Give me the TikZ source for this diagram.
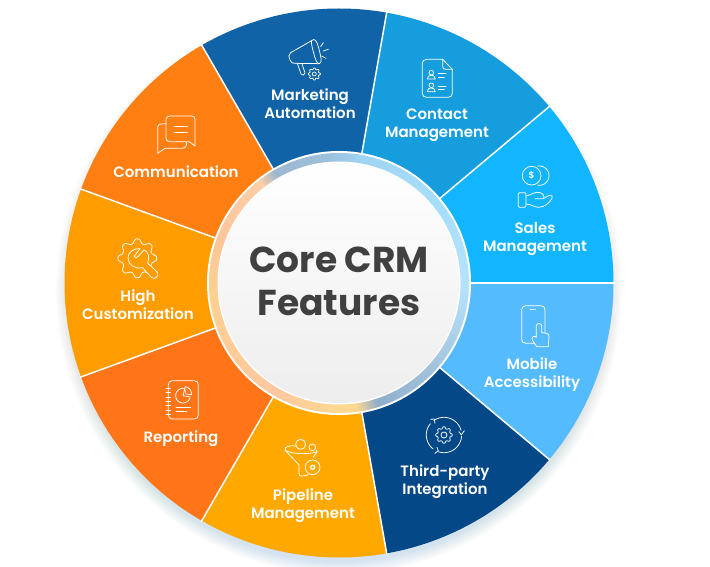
\documentclass[tikz,border=0pt]{standalone}
\usepackage{fontspec}
\newfontfamily\labfont{Poppins SemiBold}
\newfontfamily\titfont{Poppins}
\definecolor{segSales}{HTML}{12B5FF}
\definecolor{segContact}{HTML}{169DDE}
\definecolor{segMarket}{HTML}{0F63A6}
\definecolor{segComm}{HTML}{FF7F13}
\definecolor{segHigh}{HTML}{FF9C00}
\definecolor{segReport}{HTML}{FF7518}
\definecolor{segPipe}{HTML}{FFA900}
\definecolor{segThird}{HTML}{044888}
\definecolor{segMobile}{HTML}{55BBFF}
\definecolor{titlec}{HTML}{404040}
\definecolor{r0}{HTML}{B5E3FF}
\definecolor{r1}{HTML}{A5DEFB}
\definecolor{r2}{HTML}{9FD4F2}
\definecolor{r3}{HTML}{9CC0DB}
\definecolor{r4}{HTML}{9DB8D2}
\definecolor{r5}{HTML}{FFCFA8}
\definecolor{r6}{HTML}{FFC59A}
\definecolor{r7}{HTML}{FFD090}
\definecolor{r8}{HTML}{FFC8A0}
\definecolor{r9}{HTML}{FFD890}
\definecolor{r10}{HTML}{8FAECB}
\definecolor{r11}{HTML}{A5C5DE}
\tikzset{
  seglabel/.style={text=white,font=\labfont\fontsize{15}{18}\selectfont,align=center,inner sep=0pt},
  titlelabel/.style={text=titlec,font=\titfont\bfseries\fontsize{36}{42}\selectfont,align=center,inner sep=0pt},
  icon/.style={draw=white,line width=0.75pt,line cap=round,line join=round},
  zoomA/.style={shift={(200,566)},x=0.3333pt,y=-0.3333pt},
  zoomB/.style={shift={(60,486)},x=0.3333pt,y=-0.3333pt},
  zoomC/.style={shift={(100,206)},x=0.3333pt,y=-0.3333pt},
  zoomD/.style={shift={(430,416)},x=0.3333pt,y=-0.3333pt},
}
% gear outline: centre x, centre y, mean radius, amplitude, teeth
\newcommand{\geartrace}[5]{plot[domain=0:360,samples=#5*8+1,smooth] ({#1+(#3+#4*tanh(1.6*cos(#5*\x)))*cos(\x)},{#2+(#3+#4*tanh(1.6*cos(#5*\x)))*sin(\x)})}
\newcommand{\arctrace}[5]{plot[domain=#4:#5,samples=30,smooth] ({#1+#3*cos(\x)},{#2+#3*sin(\x)})}
\begin{document}
\begin{tikzpicture}[x=1pt,y=1pt]
\useasboundingbox (0,0) rectangle (710,566);
\fill[white] (0,0) rectangle (710,566);
% soft shadow, mostly below the wheel
\foreach \i in {1,...,14}
  \shade[left color=segComm,middle color=black!25,right color=segThird!70!segSales,shading angle=0,opacity=0.012] (339,275) circle[radius=270+\i*0.95];
\begin{scope}[shift={(339,283)}]
% wedges
\foreach \a/\b/\c in {0/40/segSales,40/80/segContact,80/120/segMarket,120/160/segComm,160/200/segHigh,200/240/segReport,240/280/segPipe,280/320/segThird,320/360/segMobile}
  \fill[\c] (0,0) -- (\a:274.5) arc[start angle=\a,end angle=\b,radius=274.5] -- cycle;
% spokes
\foreach \a in {0,40,...,320} {
  \coordinate (sa\a) at (\a:131);
  \coordinate (sb\a) at (\a:275.5);
  \draw[white,line width=1.5pt] (sa\a) -- (sb\a);
}
\fill[white] (0,0) circle[radius=132];
% gradient ring
\foreach \a/\b/\ca/\cb in {0/40/r0/r1,40/80/r1/r2,80/95/r2/r3,95/120/r3/r4,120/128/r4/r5,128/160/r5/r6,160/185/r6/r7,185/240/r7/r8,240/270/r8/r9,270/278/r9/r9,278/288/r9/r10,288/320/r10/r11,320/360/r11/r0} {
  \foreach \k in {0,...,19} {
    \pgfmathsetmacro{\angA}{\a+(\b-\a)*\k/20}
    \pgfmathsetmacro{\angB}{\a+(\b-\a)*(\k+1)/20+0.3}
    \pgfmathsetmacro{\pct}{100*(\k+0.5)/20}
    \colorlet{ringc}{\cb!\pct!\ca}
    \draw[ringc,line width=9pt] (\angA:125.5) arc[start angle=\angA,end angle=\angB,radius=125.5];
  }
}
\fill[white] (0,0) circle[radius=121.5];
\shade[top color=white,bottom color=black!7] (0,0) circle[radius=120];
\end{scope}
% labels (image coordinates)
\begin{scope}[shift={(0,566)},y=-1pt]
\node[titlelabel] (title) at (339,281.5) {Core CRM\\[1pt]Features};
\node[seglabel] (marketing) at (310,104) {Marketing\\Automation};
\node[seglabel] (contact) at (437,125) {Contact\\Management};
\node[seglabel] (sales) at (535,239) {Sales\\Management};
\node[seglabel] (mobile) at (532,375) {Mobile\\Accessibility};
\node[seglabel] (third) at (445,482) {Third-party\\Integration};
\node[seglabel] (pipeline) at (303,505.5) {Pipeline\\Management};
\node[seglabel] (reporting) at (181,438.5) {Reporting};
\node[seglabel] (high) at (138,305) {High\\Customization};
\node[seglabel] (comm) at (176,172) {Communication};
\end{scope}
% megaphone
\begin{scope}[zoomA]
\draw[icon] (272,158) -- (335,122) (285,190) -- (358,191);
\draw[icon] (272,158) .. controls (264,163) and (266,172) .. (270,180) .. controls (273,188) and (278,191) .. (285,190);
\draw[icon] (335,122) .. controls (342,114) and (350,120) .. (355,140) .. controls (362,165) and (368,190) .. (358,191) .. controls (350,192) and (345,175) .. (340,155) .. controls (336,140) and (333,128) .. (335,122);
\draw[icon] (292,190) -- (303,222) .. controls (306,228) and (316,226) .. (315,219) -- (306,191);
\draw[icon] (362,140) -- (370,128) (370,153) -- (385,148) (365,168) -- (378,175);
\draw[icon,fill=segMarket] \geartrace{343}{222}{16}{2.5}{8} -- cycle;
\draw[icon] (343,222) circle[radius=6];
% document
\draw[icon] (728,178) -- (680,178) .. controls (672,178) and (667,183) .. (667,190) -- (667,280) .. controls (667,287) and (672,292) .. (680,292) -- (745,292) .. controls (752,292) and (757,287) .. (757,280) -- (757,208) -- cycle;
\draw[icon] (728,178) -- (728,200) .. controls (728,205) and (732,208) .. (737,208) -- (757,208);
\foreach \yy in {0,38} {
  \draw[icon] (694,218+\yy) circle[radius=7];
  \draw[icon] (682,237+\yy) .. controls (682,222+\yy) and (706,222+\yy) .. (706,237+\yy) -- cycle;
  \draw[icon] (715,220+\yy) -- (738,220+\yy) (715,231+\yy) -- (733,231+\yy);
}
% coins and hand
\draw[icon] \arctrace{1018}{527}{29}{-100}{100};
\draw[icon,fill=segSales] (995,527) circle[radius=28];
\node[text=white,font=\labfont\fontsize{9}{9}\selectfont,inner sep=0pt] (dollar) at (995,527) {\$};
\draw[icon] (958,578) -- (975,578) .. controls (977,578) and (978,580) .. (978,582) -- (978,618) .. controls (978,620) and (977,622) .. (975,622) -- (958,622) .. controls (956,622) and (955,620) .. (955,618) -- (955,582) .. controls (955,580) and (956,578) .. (958,578) -- cycle;
\draw[icon] (978,588) .. controls (995,585) and (1005,573) .. (1020,578) .. controls (1030,581) and (1035,590) .. (1030,596) -- (1005,596);
\draw[icon] (1030,596) -- (1048,586) .. controls (1056,584) and (1060,590) .. (1056,596) .. controls (1048,608) and (1035,622) .. (1015,622) .. controls (1003,622) and (992,612) .. (978,612);
\end{scope}
% speech bubbles, gear and wrench
\begin{scope}[zoomB]
\draw[icon] (330,108) -- (395,108) .. controls (401,108) and (405,112) .. (405,118) -- (405,198) -- (388,185) -- (330,185) .. controls (323,185) and (318,181) .. (318,175) -- (318,118) .. controls (318,112) and (323,108) .. (330,108) -- cycle;
\draw[icon] (342,140) -- (382,140) (342,158) -- (382,158);
\draw[icon] (318,131) -- (303,132) .. controls (297,132) and (293,136) .. (293,142) -- (293,220) -- (315,205) -- (368,205) .. controls (375,205) and (380,200) .. (380,186);
\draw[icon] \geartrace{232}{535}{52}{7}{8} -- cycle;
\draw[icon,fill=segHigh] (240,506) .. controls (220,504) and (203,518) .. (204,535) .. controls (205,555) and (225,568) .. (247,563) -- (275,593) .. controls (283,600) and (298,590) .. (293,578) -- (263,549) .. controls (270,530) and (265,515) .. (252,510) -- (236,528) .. controls (232,535) and (226,533) .. (222,530) -- cycle;
\end{scope}
% notebook, funnel, cycle
\begin{scope}[zoomC]
\draw[icon] (217,62) -- (283,62) .. controls (290,62) and (295,67) .. (295,74) -- (295,165) .. controls (295,172) and (290,177) .. (283,177) -- (217,177) .. controls (210,177) and (205,172) .. (205,165) -- (205,74) .. controls (205,67) and (210,62) .. (217,62) -- cycle;
\foreach \yy in {85,98,...,165} \draw[icon] (198,\yy) -- (211,\yy);
\draw[icon] \arctrace{249}{107}{22}{10}{285} -- (249,107) -- cycle;
\draw[icon] (254,85) -- (256,80) .. controls (268,82) and (275,92) .. (275,104) -- (258,102) -- cycle;
\draw[icon] (228,143) -- (272,143) (228,155) -- (260,155);
\draw[icon] (602,253) circle[radius=15];
\draw[icon] (637,262) circle[radius=10];
\draw[icon] (587,258) .. controls (570,255) and (553,260) .. (555,270) -- (597,315) -- (597,340) .. controls (597,345) and (600,348) .. (605,348) -- (618,347) -- (624,343);
\draw[icon] (555,270) .. controls (570,282) and (625,285) .. (652,275) (648,270) -- (652,275) -- (640,292);
\draw[icon,fill=segPipe] (638,322) circle[radius=22];
\draw[icon] \geartrace{638}{322}{6}{1.5}{8} -- cycle;
\draw[icon] \geartrace{1032}{225}{22}{3}{8} -- cycle;
\draw[icon] (1032,225) circle[radius=9];
\draw[icon] \arctrace{1032}{225}{53}{-125}{-15};
\draw[icon] \arctrace{1032}{225}{53}{5}{108};
\draw[icon] \arctrace{1032}{225}{53}{128}{220};
\draw[icon] (1077,215) -- (1084,225) (1084,225) -- (1093,212);
\draw[icon] (1011,262) -- (1015,272) -- (1005,280);
\draw[icon] (992,178) -- (1003,177) -- (1005,190);
\end{scope}
% phone with hand
\begin{scope}[zoomD]
\draw[icon] (288,467) -- (333,467) .. controls (340,467) and (345,472) .. (345,479) -- (345,568) .. controls (345,575) and (340,580) .. (333,580) -- (288,580) .. controls (280,580) and (275,575) .. (275,568) -- (275,479) .. controls (275,472) and (280,467) .. (288,467) -- cycle;
\draw[icon] (300,477) -- (311,477) (315,477) -- (316,477);
\draw[icon,fill=segMobile] (319,528) .. controls (319,518) and (335,518) .. (335,528) -- (335,548) -- (350,550) .. controls (355,551) and (357,555) .. (357,560) -- (355,590) -- (320,590) -- (307,570) .. controls (303,562) and (312,555) .. (319,562) -- cycle;
\end{scope}
\end{tikzpicture}
\end{document}
